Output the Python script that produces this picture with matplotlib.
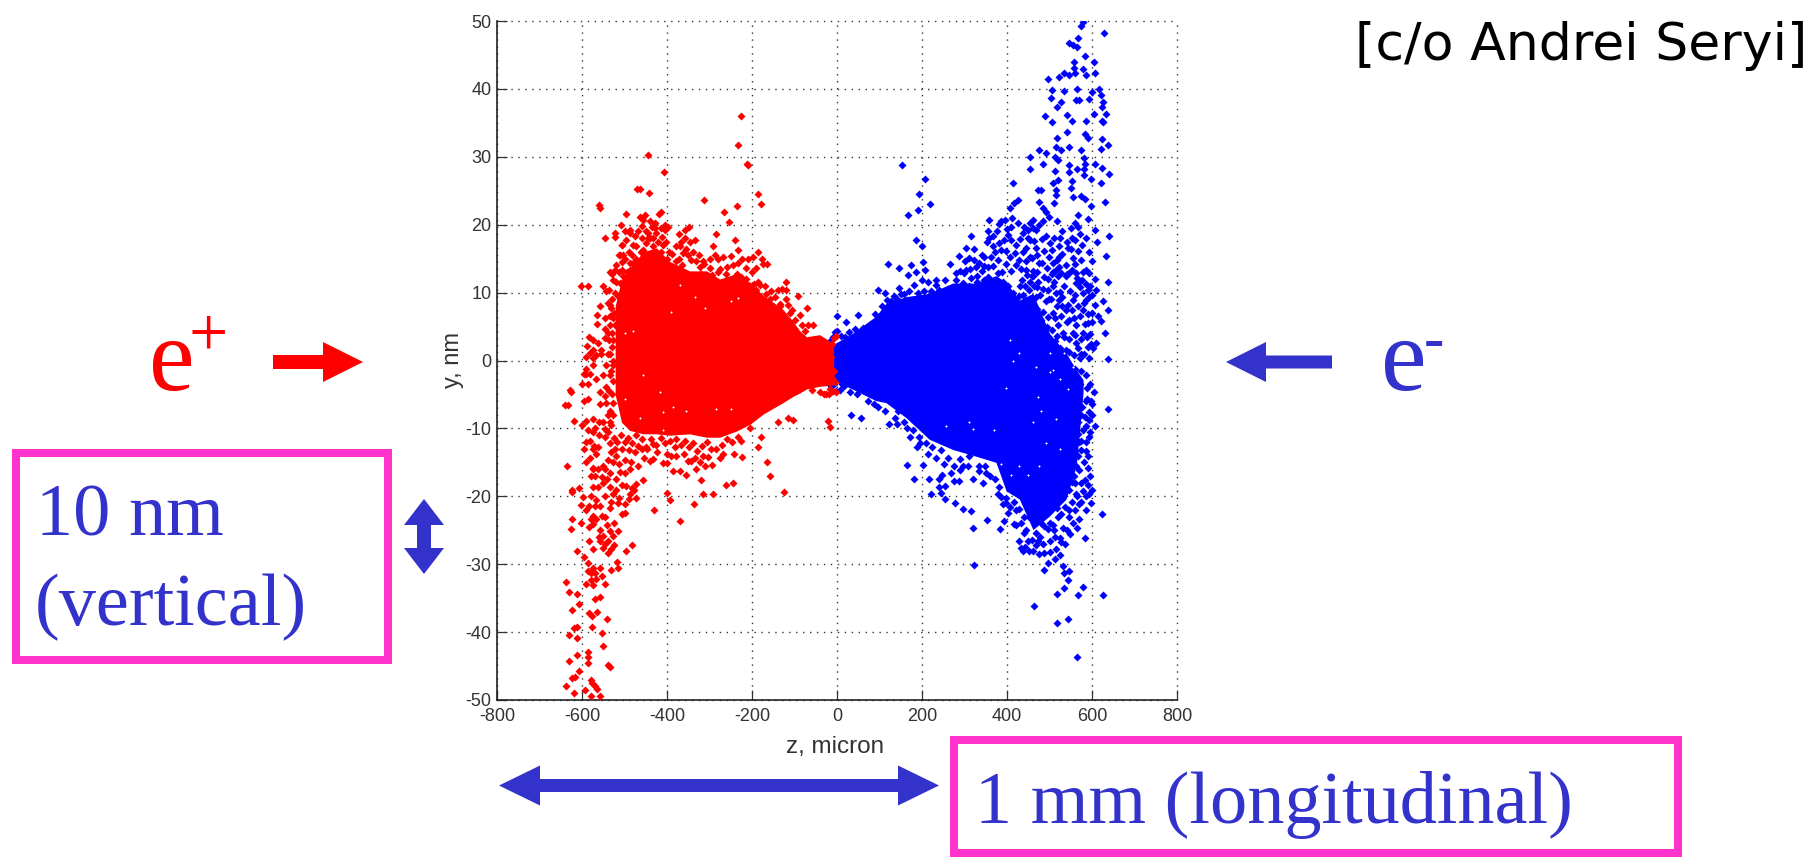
import matplotlib
matplotlib.use("Agg")
import matplotlib.pyplot as plt
from matplotlib.patches import Polygon, Rectangle

plt.rcParams["axes.unicode_minus"] = False

# ---------- data ----------
x_ticks = [-800, -600, -400, -200, 0, 200, 400, 600, 800]
y_ticks = [-50, -40, -30, -20, -10, 0, 10, 20, 30, 40, 50]

# solid (saturated) cores of the two bunches: z, upper y, lower y
red_core_z = [-522, -507, -488, -456, -425, -394, -347, -307, -276, -237, -205, -174, -127, -104, -88, -72, -41, -8]
red_core_top = [8, 12.0, 13.6, 16.0, 16.6, 14.6, 13.2, 13.2, 12.0, 12.8, 11.5, 9.6, 7.5, 5.8, 4.4, 3.5, 3.8, 2.5]
red_core_bot = [-5, -9.1, -10.3, -10.8, -10.8, -11, -10.8, -11.3, -11.3, -10.4, -9.4, -7.9, -6.2, -5.3, -4.8, -4.2, -3.8, -3.6]

blue_core_z = [-19, 36, 91, 115, 162, 217, 272, 327, 374, 398, 429, 461, 500, 539, 563, 579]
blue_core_top = [2, 4, 6.5, 8.4, 9.4, 9.9, 11.4, 11.4, 12.5, 11.5, 8.9, 9.9, 4, 1.1, -1.4, -2.8]
blue_core_bot = [-2.7, -4.2, -5.9, -6.2, -8.4, -11.6, -13.1, -14.1, -15, -19.2, -20.4, -24.9, -22.9, -20.4, -15.5, -4.7]

# individually visible macro-particles
red_upper = [
    (-226, 36), (-233, 31.7), (-209, 28.8), (-212, 28.9), (-444, 30.3), (-406, 27.7), (-470, 25.2), (-464, 25.2),
    (-442, 24.7), (-561, 22.9), (-558, 22.4), (-186, 24.5), (-180, 23.1), (-313, 23.6), (-236, 22.7), (-266, 21.8),
    (-255, 20.4), (-497, 21.6), (-420, 21.6), (-413, 21.8), (-464, 21.1), (-456, 20.7), (-508, 20), (-428, 20.2),
    (-405, 20), (-398, 19.7), (-405, 19.2), (-488, 19.2), (-488, 18.8), (-522, 18.8), (-522, 18.2), (-547, 18.1),
    (-445, 18.8), (-445, 18), (-425, 18.8), (-358, 19.2), (-348, 19.7), (-358, 18.1), (-334, 17.7), (-284, 18.6),
    (-241, 17.7), (-291, 16.8), (-233, 16.3), (-186, 16), (-402, 17.5), (-496, 17.8), (-480, 17), (-507, 17),
    (-355, 16.4), (-362, 15.8), (-370, 16.8), (-388, 15.7), (-503, 15.6), (-511, 15.6), (-288, 15.6), (-268, 15.3),
    (-223, 14.9), (-198, 15.2), (-176, 14.9), (-174, 14.2), (-164, 14.2), (-233, 14.3), (-215, 13.6), (-533, 13.1),
    (-507, 13.4), (-472, 15), (-488, 14.3), (-343, 14.8), (-323, 13.8), (-258, 13.8), (-280, 13.1), (-186, 11.6),
    (-182, 11.1), (-121, 11.5), (-121, 10.4), (-121, 9), (-92, 9.5), (-71, 7.7), (-68, 5.3), (-56, 5.3),
    (-602, 11), (-587, 11), (-551, 10.9), (-558, 8), (-565, 6.7), (-565, 5.4), (-535, 8.2), (-532, 7.7),
    (-527, 6.2), (-523, 5.3), (-547, 4.6), (-584, 3.4), (-588, 2.1), (-547, 3.3), (-562, 2.6), (-574, 1.6),
    (-555, 1.6), (-523, 9.9), (-511, 11.4), (-504, 12.4), (-488, 13.4), (-480, 14.3), (-449, 17.3), (-472, 16.8),
    (-456, 16.3), (-433, 16.8), (-527, 3), (-535, 1), (-540, 4), (-590, 0.5), (-575, 0.3), (-555, 1),
    (-150, 8), (-135, 8.3), (-110, 7), (-100, 6), (-105, 5),
    (-520, 11.5), (-512, 13), (-515, 9.5), (-498, 15), (-495, 13), (-500, 11), (-505, 14.5), (-490, 12),
    (-483, 15.5), (-478, 13), (-470, 14.3), (-462, 13), (-468, 12), (-462, 16), (-458, 18), (-450, 19),
    (-440, 18), (-432, 18), (-422, 17.5), (-428, 19.5), (-412, 18.2), (-415, 16), (-395, 16), (-400, 15),
    (-380, 14.6), (-372, 15), (-365, 14), (-350, 15.5), (-340, 16), (-332, 14.6), (-320, 12.7), (-312, 14.2),
    (-300, 13.6), (-293, 12.6), (-275, 13.5), (-262, 12.8), (-252, 11.9), (-245, 14), (-236, 12.8), (-226, 12.3),
    (-214, 12), (-205, 11), (-195, 11.3), (-190, 10.4), (-168, 9.8), (-158, 9), (-146, 9.4), (-135, 8),
    (-115, 8.2), (-105, 7.4), (-88, 6.7), (-82, 5.2), (-75, 4.3), (-545, 6.3), (-535, 5.2), (-540, 8.4),
    (-530, 9), (-525, 7), (-530, 4), (-530, 2), (-528, 0), (-575, 3), (-566, 0.8), (-582, 1.1),
    (-12, 2.5), (-8, 3.3), (-3, 3.6), (-14, 0.5), (-8, -1.5),
    (-520, 14), (-513, 15.5), (-505, 17), (-498, 19), (-490, 16), (-476, 18.4), (-468, 19), (-460, 19.8),
    (-452, 21.4), (-440, 20.5), (-435, 19.6), (-415, 19.5), (-410, 17), (-380, 16.8), (-372, 18.6), (-366, 17.5),
    (-345, 17.5), (-325, 15.5), (-315, 14.6), (-300, 15), (-280, 15), (-250, 15.4), (-210, 15), (-200, 13),
    (-190, 13.6), (-170, 11), (-155, 10.2), (-140, 10.4), (-130, 10.5), (-528, 11.8), (-536, 10.4), (-530, 12.7),
    (-522, 13.3), (-543, 10.2), (-533, 6.5), (-536, 3),
]
red_lower = [
    (-629, -4.3), (-627, -4.6), (-641, -6.5), (-633, -6.5), (-620, -8.9), (-635, -15.6), (-623, -19), (-608, -18.8),
    (-623, -19.3), (-598, -20.1), (-602, -21.3), (-623, -23.4), (-602, -24), (-627, -24.8), (-612, -28), (-595, -28.9),
    (-587, -29.8), (-638, -32.6), (-631, -34.1), (-612, -34.4), (-608, -35.8), (-623, -36.7), (-620, -39.4), (-612, -39.2),
    (-631, -40.5), (-612, -40.8), (-612, -43.3), (-631, -44.2), (-608, -45.7), (-623, -46.7), (-616, -46.6), (-638, -47.9),
    (-620, -49), (-594, -48.5), (-580, -49.4), (-558, -49.4), (-580, -47.1), (-576, -47.5), (-569, -47.9), (-565, -48.4),
    (-587, -42.9), (-587, -43.6), (-587, -44.5), (-539, -44.9), (-535, -45.2), (-551, -42), (-554, -40.1), (-576, -39.2),
    (-542, -38.1), (-584, -37.2), (-576, -37.7), (-565, -37.1), (-569, -35.1), (-558, -34.9), (-590, -32.9), (-580, -32.3),
    (-580, -31.3), (-569, -31.3), (-545, -32.9), (-553, -31.8), (-558, -30.5), (-532, -30.9), (-515, -30.5), (-518, -29.7),
    (-496, -28), (-482, -27.1), (-573, -27.8), (-584, -26.6), (-532, -27.8), (-551, -27.6), (-558, -26.6), (-539, -26.6),
    (-527, -25.9), (-515, -25.1), (-525, -24), (-584, -24.5), (-574, -24.1), (-558, -24.9), (-551, -25.9), (-535, -25.1),
    (-507, -22.6), (-500, -22.4), (-535, -21.7), (-554, -22.9), (-574, -22.9), (-584, -21.4), (-531, -20.8), (-500, -21.2),
    (-488, -19.7), (-472, -20.2), (-478, -19), (-472, -18.2), (-456, -17.6), (-431, -22), (-400, -19.5), (-392, -20.6),
    (-370, -23.7), (-337, -21.1), (-315, -19.7), (-291, -19.7), (-319, -17.6), (-262, -18.3), (-244, -18.1), (-164, -14.9),
    (-158, -17), (-125, -19.3), (-21, -8.9), (-17, -9.8), (-104, -8.8), (-115, -8.5), (-139, -9), (-187, -12.7),
    (-178, -11.3), (-205, -9.9), (-243, -13.7), (-223, -14.2), (-233, -11.3), (-225, -11.8), (-295, -15.4), (-311, -15.6),
    (-331, -16), (-355, -16.8), (-370, -16.3), (-386, -16.3), (-276, -14.3), (-284, -13.1), (-315, -14), (-351, -14.8),
    (-343, -14.8), (-400, -15.1), (-409, -15.1), (-378, -14), (-400, -13.8), (-382, -12.8), (-433, -14.5), (-453, -14.3),
    (-441, -14.8), (-468, -15.5), (-488, -16), (-500, -16.5), (-519, -17.5), (-496, -18.5), (-527, -15), (-551, -15.6),
    (-574, -16), (-582, -14.3), (-562, -12.8), (-582, -11.8), (-574, -15.8), (-519, -14), (-507, -13), (-531, -13.5),
    (-476, -13.5), (-468, -12.6), (-433, -12.3), (-542, -17.5), (-535, -18.7), (-551, -18), (-574, -18.7), (-519, -19),
    (-527, -19.7), (-578, -20), (-558, -21.4), (-554, -17.2), (-586, -5.7), (-590, -8.9), (-586, -10.3), (-574, -8.6),
    (-570, -9.9), (-558, -6.4), (-551, -9.1), (-547, -10.1), (-586, -3.4), (-582, -2), (-558, -4.7), (-543, -6.2),
    (-527, -6.2), (-590, -1.2), (-574, -0.7), (-535, -2.2), (-566, -2.7), (-543, -3.9), (-527, -0.7), (-543, -0.7),
    (-551, -2.2), (-40, -4.6), (-30, -5), (-20, -5), (-60, -4.4), (-10, -4.5),
    (-545, -11.3), (-535, -12.1), (-525, -11.4), (-517, -12), (-508, -11), (-500, -12), (-492, -11.4), (-482, -12.2),
    (-474, -11), (-458, -11.6), (-450, -12.8), (-438, -11.6), (-425, -12.4), (-415, -11.4), (-405, -12.2), (-392, -11.9),
    (-380, -11.6), (-368, -12.4), (-358, -11.8), (-349, -12.8), (-338, -12.2), (-330, -13.4), (-318, -12.6), (-305, -12),
    (-296, -13), (-270, -12.5), (-258, -11.6), (-248, -12), (-540, -14.6), (-522, -13), (-512, -15.3), (-500, -14.6),
    (-490, -13.2), (-484, -15), (-460, -13), (-446, -13), (-423, -13.5), (-390, -14), (-360, -13.7), (-333, -14.4),
    (-322, -15), (-303, -14.2), (-268, -13.7), (-566, -13.8), (-574, -13), (-570, -17), (-590, -15), (-580, -17),
    (-562, -18.6), (-563, -16), (-545, -16), (-533, -16.6), (-510, -16.4), (-505, -18.4), (-490, -20.4), (-482, -18.8),
    (-512, -20.3), (-516, -21), (-545, -20), (-566, -20.5), (-570, -21.5), (-590, -22), (-578, -23.4), (-566, -23.4),
    (-546, -23), (-542, -24.3), (-560, -26), (-546, -27), (-525, -27.2), (-540, -28.4), (-590, -12), (-596, -13),
    (-575, -10.5), (-560, -9), (-538, -8), (-532, -9.5), (-560, -11), (-572, -12.6), (-595, -6), (-600, -9.5),
    (-595, -2), (-600, -3.5), (-585, -31), (-575, -30.5), (-574, -33), (-568, -32.2), (-590, -2),
    (-12, -2.6), (-4, -3.2), (-16, -4.2), (-25, -5), (-3, -4.6),
    (-540, 1), (-532, -1.5), (-537, -4.5), (-547, -5.2), (-533, -9), (-540, -10.5), (-528, -3), (-530, -5),
    (-535, -7.5), (-528, -8),
]
blue_upper = [
    (579, 49.9), (573, 49.3), (629, 48.3), (568, 47.5), (547, 46.8), (555, 46.5), (564, 46.1), (583, 44.9),
    (605, 44), (558, 44), (558, 43.1), (560, 42.3), (533, 42.4), (522, 41.7), (496, 41.5), (547, 42),
    (579, 42.9), (586, 42.1), (606, 42.4), (506, 39.8), (533, 39.7), (564, 40), (616, 40), (601, 39.5),
    (622, 39.1), (503, 38.7), (527, 38.1), (517, 37.4), (563, 38.3), (569, 38.3), (594, 38.5), (627, 38),
    (624, 37.3), (489, 36), (540, 36.2), (604, 36.3), (634, 36.3), (507, 35.1), (554, 35.3), (586, 35.3),
    (624, 35.3), (627, 35.1), (540, 33.7), (517, 32.8), (583, 33.3), (591, 32.8), (624, 32.6), (638, 31.7),
    (620, 31.2), (547, 31.4), (575, 31), (515, 31.5), (476, 31), (453, 30), (492, 30.5), (527, 31),
    (514, 30), (521, 29.6), (580, 29.8), (584, 29), (484, 28.9), (453, 28.2), (547, 28.8), (608, 28.9),
    (623, 28.3), (641, 27.5), (512, 27.9), (547, 27.8), (564, 28.2), (580, 28.2), (580, 27.3), (597, 26.8),
    (620, 26.1), (414, 26.1), (508, 26.1), (520, 26.6), (553, 26.4), (551, 25.4), (516, 25.1), (472, 25.1),
    (481, 25.1), (516, 24.4), (555, 24.1), (575, 24.2), (583, 23.8), (630, 23.3), (425, 23.7), (417, 23.2),
    (406, 22.4), (476, 23.4), (510, 23.2), (597, 22.7), (485, 22.4), (492, 21.9), (498, 21.2), (567, 21.5),
    (561, 20.2), (590, 20.8), (518, 20.5), (395, 20.7), (386, 20.5), (358, 20.7), (461, 20.7), (453, 20.2),
    (449, 19.2), (410, 19.7), (355, 19), (403, 18.5), (437, 18.8), (469, 19.2), (567, 19.7), (551, 19.5),
    (530, 19), (608, 19.2), (641, 18.4), (612, 17.4), (315, 18.4), (358, 18), (382, 17.3), (421, 17),
    (453, 17.8), (492, 18.3), (500, 17.3), (576, 17), (366, 16.8), (386, 16.3), (445, 16.5), (469, 16.5),
    (523, 16.8), (551, 16.4), (634, 15.4), (304, 16.5), (323, 16.4), (341, 15.6), (286, 15.4), (311, 15.1),
    (300, 14.6), (266, 14.2), (406, 15.3), (429, 14.8), (453, 15.3), (523, 15.3), (508, 14.3), (555, 15.1),
    (575, 14.8), (186, 17.8), (200, 16.9), (203, 14.5), (120, 14.2), (145, 13.6), (175, 14), (186, 13.1),
    (168, 12.6), (206, 13.4), (215, 11.6), (233, 11.9), (233, 11.1), (280, 12.9), (280, 11.9), (303, 13.4),
    (327, 13.8), (153, 28.8), (206, 26.8), (192, 24.5), (218, 23.1), (190, 22.2), (166, 21.5), (97, 10.4),
    (113, 9.9), (146, 10.7), (182, 11.1), (1, 6.5), (22, 5.6), (50, 6.7), (77, 5.2), (60, 4.8),
    (1, 4.3), (523, 13.8), (547, 12.9), (563, 12.9), (586, 13.4), (608, 12), (638, 11.5), (461, 12.4),
    (508, 10.9), (539, 12.4), (563, 11.4), (579, 9.9), (610, 10.4), (586, 8.9), (627, 8.8), (638, 7.4),
    (620, 5.8), (630, 4), (523, 8.9), (555, 8.9), (539, 7.5), (579, 7.5), (563, 5.3), (520, 5.3),
    (508, 7), (469, 9.4), (445, 8.9), (610, 2.6), (602, 1.8), (638, 0.2), (579, 4), (555, 4),
    (532, 4), (563, 2.6), (539, 1.6), (571, 0.4), (551, -1.4), (508, 2.1), (500, -0.4), (480, 6),
    (495, 5), (530, 8), (545, 6), (590, 5.5), (575, 1), (590, 2), (520, 1), (535, -0.5),
    (498, 9), (515, 10), (595, 11), (600, 7),
    (436, 11.8), (448, 12.6), (462, 13.2), (474, 11.6), (486, 12.3), (497, 10.4), (510, 11.6), (524, 10.1),
    (533, 11.0), (548, 10.3), (561, 9.6), (572, 10.8), (585, 11.2), (592, 9.3), (438, 9.7), (452, 10.4),
    (463, 10.9), (478, 9.6), (491, 8.7), (503, 9.0), (517, 8.1), (530, 9.4), (543, 8.2), (552, 7.4),
    (568, 8.1), (582, 8.4), (590, 6.8), (599, 5.6), (440, 7.2), (456, 8), (470, 7.6), (484, 7.1),
    (497, 6.4), (512, 6.2), (526, 6.6), (541, 5.7), (557, 6.2), (571, 6.6), (584, 5.4), (596, 3.9),
    (445, 5.2), (462, 5.6), (476, 5.0), (490, 4.6), (505, 4.5), (518, 3.6), (533, 3.5), (546, 3.2),
    (560, 3.7), (574, 3.1), (588, 3.4), (598, 2.4), (512, 2.9), (525, 1.9), (546, 1.3), (558, 0.8),
    (568, 1.8), (581, 0.9), (592, 0.3), (530, 0.3), (516, 0.5), (545, -0.8), (560, -1.2), (573, -1.6),
    (586, -2.2), (559, -2.6), (572, -3.4),
    (352, 17.5), (362, 15.3), (372, 16), (378, 14.8), (392, 17.8), (398, 16.2), (410, 17.8), (418, 15.9),
    (430, 17.9), (438, 16), (444, 14.6), (458, 15.1), (464, 17.6), (475, 14.3), (486, 16.2), (498, 15.3),
    (506, 16.3), (515, 13.3), (530, 15.7), (538, 14), (544, 16.6), (560, 14.2), (568, 16.2), (592, 16),
    (600, 14.7), (594, 12.9), (578, 13), (569, 11.5), (347, 15.2), (356, 13.7), (340, 13.2), (330, 12.4),
    (316, 12.2), (298, 12.9), (290, 13.2), (254, 11.8), (262, 10.6), (200, 11.9), (220, 10.3), (240, 10.4),
    (274, 10.3), (296, 11.4), (311, 11), (330, 11.6), (345, 11.9), (352, 10.9), (127, 8.7), (135, 9.5),
    (158, 9.8), (170, 10.2), (190, 10), (205, 10.3), (28, 4.2), (42, 4.6), (70, 5), (90, 6.9),
    (105, 8), (118, 8.9), (140, 9.1), (150, 9.8), (-10, 3.4), (-16, 2.8), (-20, 1.5), (-5, 4.2),
    (10, 3.6), (18, 3.5),
    (432, 13.5), (445, 13.4), (458, 12.4), (470, 13), (482, 14.4), (495, 13.6), (505, 12.8), (518, 14.8),
    (528, 12.9), (540, 12.8), (553, 13.4), (565, 12.2), (577, 11.9), (590, 10.4), (600, 9.6), (608, 8.2),
    (614, 6.6), (420, 14.1), (410, 13.2), (398, 14.2), (388, 13), (378, 12.9), (366, 13.9), (356, 12.3),
    (345, 13.9), (335, 14.4), (322, 14.8), (312, 13.5), (470, 15.6), (483, 17.9), (510, 18), (525, 18),
    (540, 17.5), (552, 18), (560, 17.7), (572, 18.6), (585, 18.1), (520, 12.4), (508, 13), (496, 12),
    (484, 10.6), (470, 10.8), (455, 11.6), (442, 10.9), (430, 11), (428, 9.5), (415, 10), (403, 11),
    (390, 11.5), (378, 11.3), (440, 19.7), (425, 20.3), (412, 21), (400, 19.4), (376, 19), (368, 18.4),
    (380, 20.1), (450, 18), (460, 19.5), (476, 19.9), (485, 20.5),
]
blue_lower = [
    (605, -4.6), (601, -6.4), (638, -7.1), (594, -8.7), (608, -9.7), (586, -9.6), (575, -11.8), (586, -13.3),
    (567, -14), (563, -15.5), (583, -17.6), (579, -19.2), (586, -20), (598, -21), (575, -20.9), (554, -20.9),
    (623, -22.6), (564, -24.6), (583, -26.2), (531, -24.6), (528, -26.8), (516, -27.8), (524, -28.6), (512, -29.3),
    (496, -29.8), (486, -30.8), (531, -30.3), (547, -31), (535, -31.3), (543, -32.3), (579, -33.3), (533, -33.5),
    (517, -34.4), (568, -34.6), (627, -34.5), (464, -36.2), (543, -38.1), (517, -38.6), (564, -43.6), (322, -30.1),
    (429, -26.6), (433, -27.6), (437, -28.1), (449, -26.6), (472, -26.6), (500, -26.6), (445, -24.9), (469, -25.4),
    (500, -23.9), (402, -22.4), (417, -24.1), (394, -23.6), (384, -24.8), (352, -23.5), (319, -24.6), (315, -22.2),
    (297, -21.8), (278, -21), (255, -20.4), (245, -19.5), (222, -19.7), (255, -18.5), (241, -18.7), (182, -17.4),
    (164, -15.4), (203, -15.4), (217, -17.4), (248, -16.8), (252, -15.2), (233, -14.3), (276, -17.7), (286, -17.8),
    (276, -15.6), (297, -15.6), (319, -17.5), (343, -18.1), (351, -16.5), (382, -18.7), (378, -19.7), (398, -20.2),
    (421, -19.3), (171, -11.3), (193, -11.3), (188, -12.7), (209, -12.1), (123, -9.4), (142, -9.4), (164, -9.9),
    (34, -8), (57, -8.5), (87, -6.4), (143, -7.4), (560, -18), (565, -20), (540, -18), (570, -12),
    (575, -8), (560, -6), (585, -6), (540, -25), (520, -23), (510, -25), (480, -24), (460, -28),
    (485, -27), (420, -22), (440, -23), (560, -22), (545, -22), (335, -15.5), (310, -14), (290, -14.5),
    (588, -5.6), (577, -6.9), (592, -7.6), (583, -8.3), (566, -9.1), (579, -10.2), (592, -11.2), (568, -10.8),
    (585, -12), (573, -13.2), (560, -13.3), (580, -15), (590, -15.8), (570, -16.2), (558, -17), (575, -18),
    (545, -19.1), (553, -17.9), (562, -19.7), (570, -21.2), (590, -18.4), (536, -21.6), (545, -23), (528, -22.6),
    (518, -21.7), (508, -24.2), (496, -24.8), (486, -24.4), (478, -26), (468, -27.2), (458, -26.4), (440, -25.4),
    (432, -24), (452, -23), (422, -24.3), (416, -20.9), (428, -21.8), (408, -21.6), (398, -21), (390, -21.2),
    (386, -20.1), (372, -17.5), (360, -17), (348, -15.5), (334, -16.3), (308, -15.6), (290, -16.2), (262, -14.4),
    (244, -13.2), (224, -12.8), (213, -13.8), (196, -12.2), (178, -10.2), (158, -9.1), (136, -8.4), (112, -7.4),
    (96, -6.9), (72, -5.9), (48, -5), (30, -4.6), (16, -3.8), (240, -17.4), (268, -16.6), (-8, -3.5),
    (-14, -3.8), (-2, -4.5), (12, -3.5), (8, -4.3),
    (595, -3.5), (597, -6), (589, -4), (600, -8), (596, -10.5), (590, -14), (595, -17), (600, -19),
    (593, -19.7), (585, -22), (570, -23.4), (555, -24), (548, -25.5), (537, -27), (525, -26.2), (512, -26),
    (500, -28.2), (488, -28.3), (475, -28.5), (452, -28), (443, -27.5),
]
# small uncovered flecks inside the saturated cores
red_gaps = [
    (-249, 8.7), (-233, 9.2), (-335, 9.4), (-370, 11.1), (-500, 4), (-480, 4.3), (-390, 7.2), (-311, 7.7),
    (-500, -5.6), (-464, -8.4), (-409, -7.6), (-386, -6.9), (-355, -7.4), (-284, -7.1), (-249, -7.1), (-409, -10.2),
    (-456, -2.2), (-417, -4.7),
]
blue_gaps = [
    (472, -5.4), (480, -7.4), (500, -1.7), (524, -2.7), (543, -4.2), (311, -9.1), (319, -10.1), (256, -9.6),
    (370, -10.3), (461, -9.1), (516, -8.6), (492, -12.1), (524, -13.1), (429, -15.5), (476, -15.5), (449, -16.8),
    (386, -15.3), (410, -16.8), (398, -4), (406, 3), (429, 1.1), (414, -0.1), (469, -0.9), (500, 1.1),
    (535, 1.1), (555, -0.9), (508, -1.4),
]

# ---------- styles ----------
RED = "#ff0000"
BLUE = "#0000ff"
SLIDE_BLUE = "#3333cc"
PINK = "#ff33cc"
DARK = "#333333"
TICK_FONT = "Liberation Sans"
SLIDE_FONT = "Liberation Serif"

fig = plt.figure(figsize=(18.16, 8.57), dpi=100, facecolor="white")
W, H = 1816, 857
ax = fig.add_axes([497 / W, 1 - 700 / H, 680 / W, 679 / H])


def draw_bunch(core_z, core_top, core_bot, points, gaps, color, z):
    ax.fill_between(core_z, core_top, core_bot, color=color, linewidth=0, zorder=z)
    zs = [p[0] for p in points]
    ys = [p[1] for p in points]
    ax.plot(zs, ys, ls="none", marker="D", ms=4.5, mfc=color, mec="none", zorder=z)
    ax.plot([p[0] for p in gaps], [p[1] for p in gaps], ls="none", marker="D", ms=1.3,
            mfc="white", mec="none", zorder=z + 0.1)


draw_bunch(blue_core_z, blue_core_top, blue_core_bot, blue_upper + blue_lower, blue_gaps, BLUE, 3)
draw_bunch(red_core_z, red_core_top, red_core_bot, red_upper + red_lower, red_gaps, RED, 4)

ax.set_xlim(-800, 800)
ax.set_ylim(-50, 50)
ax.set_xticks(x_ticks)
ax.set_yticks(y_ticks)
ax.grid(True, color="#333333", linewidth=1.0, linestyle=(0, (1, 4)), zorder=1)
ax.set_axisbelow(True)
for g in ax.get_xgridlines() + ax.get_ygridlines():
    g.set_clip_on(False)
ax.tick_params(direction="in", length=7, width=0.9, color=DARK, labelsize=13, labelcolor=DARK, pad=4)
ax.tick_params(axis="x", pad=6)
for lab in ax.get_xticklabels() + ax.get_yticklabels():
    lab.set_fontfamily(TICK_FONT)
for side in ("top", "right"):
    ax.spines[side].set_visible(False)
for side in ("left", "bottom"):
    ax.spines[side].set_linewidth(1.2)
    ax.spines[side].set_color("#222222")
ax.set_xlabel("z, micron", fontfamily=TICK_FONT, fontsize=17.5, color=DARK, labelpad=8, x=0.497)
ax.set_ylabel("y, nm", fontfamily=TICK_FONT, fontsize=17, color=DARK, labelpad=1)

# ---------- slide annotations, in pixel coordinates ----------
ov = fig.add_axes([0, 0, 1, 1], facecolor="none", zorder=10)
ov.set_xlim(0, W)
ov.set_ylim(H, 0)
ov.axis("off")


def arrow(tail, tip, shaft, head, head_len, color, both=False):
    (x0, y0), (x1, y1) = tail, tip
    length = ((x1 - x0) ** 2 + (y1 - y0) ** 2) ** 0.5
    ux, uy = (x1 - x0) / length, (y1 - y0) / length
    nx, ny = -uy, ux
    def P(a, n):
        return (x0 + ux * a + nx * n, y0 + uy * a + ny * n)
    pts = []
    if both:
        pts += [P(0, 0), P(head_len, -head)]
    pts += [P(head_len if both else 0, -shaft), P(length - head_len, -shaft), P(length - head_len, -head),
            P(length, 0), P(length - head_len, head), P(length - head_len, shaft), P(head_len if both else 0, shaft)]
    if both:
        pts += [P(head_len, head)]
    ov.add_patch(Polygon(pts, closed=True, fc=color, ec="none"))


arrow((273, 362), (363, 362), 7, 20, 40, RED)
arrow((1332, 362), (1226, 362), 6.5, 20, 40, SLIDE_BLUE)
arrow((424, 499), (424, 574), 7, 20, 26, SLIDE_BLUE, both=True)
arrow((499, 785.5), (939, 785.5), 6.5, 20, 41, SLIDE_BLUE, both=True)

for (x0, y0, x1, y1) in [(12, 449, 392, 664), (950, 736, 1682, 857)]:
    ov.add_patch(Rectangle((x0 + 4, y0 + 4), x1 - x0 - 8, y1 - y0 - 8, fc="none", ec=PINK, lw=8 * 0.72,
                           joinstyle="miter"))

serif = dict(fontfamily=SLIDE_FONT, va="baseline", ha="left")
ov.text(149, 390, "e", color=RED, fontsize=74, **serif)
ov.text(208, 355, "+", color=RED, fontsize=50, fontfamily=SLIDE_FONT, va="baseline", ha="center")
ov.text(1381, 390, "e", color=SLIDE_BLUE, fontsize=74, **serif)
ov.text(1424, 358, "-", color=SLIDE_BLUE, fontsize=44, **serif)
ov.text(36, 535, "10 nm", color=SLIDE_BLUE, fontsize=53.5, **serif)
ov.text(35, 625, "(vertical)", color=SLIDE_BLUE, fontsize=53.5, **serif)
ov.text(975, 823, "1 mm (longitudinal)", color=SLIDE_BLUE, fontsize=53.5, **serif)
ov.text(1355, 60, "[c/o Andrei Seryi]", color="black", fontsize=37.5, fontfamily="DejaVu Sans",
        va="baseline", ha="left")

fig.savefig("out.png", dpi=100, facecolor="white")
